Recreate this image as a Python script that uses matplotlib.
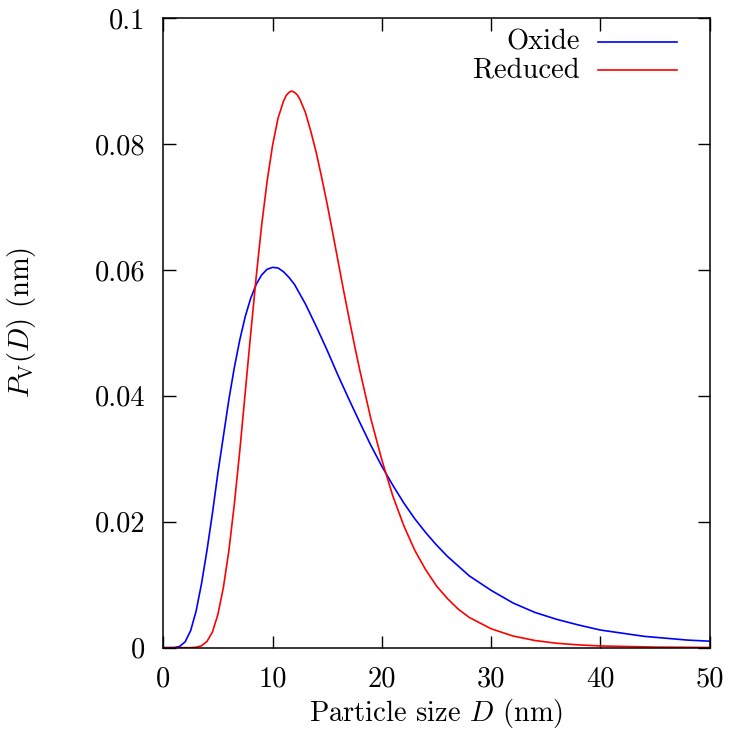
import matplotlib
matplotlib.use("Agg")
import matplotlib.pyplot as plt

plt.rcParams['font.family'] = 'serif'
plt.rcParams['font.serif'] = ['cmr10', 'DejaVu Serif']
plt.rcParams['mathtext.fontset'] = 'cm'
plt.rcParams['axes.formatter.use_mathtext'] = True

# Oxide (blue)
oxide_D = [0, 1.0, 1.5, 2.0, 2.5, 3.0, 3.5, 4.0, 4.5, 5.0, 5.5, 6.0, 6.5, 7.0, 7.5,
           8.0, 8.5, 9.0, 9.5, 10.0, 10.5, 11.0, 11.5, 12.0, 13.0, 14.0, 15.0, 16.0,
           17.0, 18.0, 19.0, 20.0, 21.0, 22.0, 23.0, 24.0, 25.0, 26.0, 28.0, 30.0,
           32.0, 34.0, 36.0, 38.0, 40.0, 42.0, 44.0, 46.0, 48.0, 50.0]
oxide_P = [0, 0.00001, 0.0002, 0.00093, 0.0027, 0.0058, 0.0102, 0.0155, 0.0214, 0.0278,
           0.0336, 0.0394, 0.0445, 0.0489, 0.0526, 0.0555, 0.0577, 0.0592, 0.0601, 0.0604,
           0.0603, 0.0597, 0.0588, 0.0577, 0.0546, 0.0510, 0.0472, 0.0432, 0.0394, 0.0357,
           0.0321, 0.0288, 0.0258, 0.0230, 0.0205, 0.0183, 0.0163, 0.0145, 0.0114, 0.0091,
           0.0071, 0.0056, 0.0045, 0.0036, 0.0028, 0.0023, 0.0018, 0.0015, 0.0012, 0.00103]

# Reduced (red)
reduced_D = [0, 2.5, 3.0, 3.5, 4.0, 4.5, 5.0, 5.5, 6.0, 6.5, 7.0, 7.5, 8.0, 8.5, 9.0,
             9.5, 10.0, 10.5, 11.0, 11.25, 11.5, 11.75, 12.0, 12.25, 12.5, 13.0, 13.5,
             14.0, 14.5, 15.0, 15.5, 16.0, 16.5, 17.0, 17.5, 18.0, 19.0, 20.0, 21.0,
             22.0, 23.0, 24.0, 25.0, 26.0, 27.0, 28.0, 30.0, 32.0, 34.0, 36.0, 38.0,
             40.0, 45.0, 50.0]
reduced_P = [0, 0.0, 0.00007, 0.0003, 0.0010, 0.0025, 0.0053, 0.0096, 0.0154, 0.0228,
             0.0313, 0.0406, 0.0499, 0.0589, 0.0671, 0.0741, 0.0798, 0.0841, 0.0868,
             0.0877, 0.0882, 0.0884, 0.0882, 0.0878, 0.0871, 0.0850, 0.0820, 0.0786,
             0.0746, 0.0704, 0.0659, 0.0613, 0.0567, 0.0523, 0.0480, 0.0439, 0.0363,
             0.0298, 0.0241, 0.0194, 0.0155, 0.0124, 0.0098, 0.0078, 0.0061, 0.0048,
             0.0030, 0.00185, 0.00114, 0.0007, 0.00044, 0.00027, 0.00009, 0.00003]

series_labels = ["Oxide", "Reduced"]
series_colors = ["#0000ff", "#ff0000"]
x_ticks = [0, 10, 20, 30, 40, 50]
y_ticks = [0, 0.02, 0.04, 0.06, 0.08, 0.1]
y_tick_labels = ["0", "0.02", "0.04", "0.06", "0.08", "0.1"]

FS = 20.5

fig = plt.figure(figsize=(7.33, 7.38), dpi=100)
ax = fig.add_axes([0.2228, 0.1224, 0.9682 - 0.2228, 0.9756 - 0.1224])

ax.plot(oxide_D, oxide_P, color=series_colors[0], lw=1.2)
ax.plot(reduced_D, reduced_P, color=series_colors[1], lw=1.2)

ax.set_xlim(0, 50)
ax.set_ylim(0, 0.1)
ax.set_xticks(x_ticks)
ax.set_xticklabels([str(t) for t in x_ticks])
ax.set_yticks(y_ticks)
ax.set_yticklabels(y_tick_labels)
ax.tick_params(direction='in', length=9, width=1.0, top=True, right=True,
               labelsize=FS)
ax.tick_params(axis='x', pad=13)
ax.tick_params(axis='y', pad=13)
for s in ax.spines.values():
    s.set_linewidth(1.1)

ax.set_xlabel(r"Particle size $D$ (nm)", fontsize=FS)
ax.set_ylabel(r"$P_{\mathrm{V}}(D)$ (nm)", fontsize=FS)
ax.xaxis.set_label_coords(0.5, -0.078)
ax.yaxis.set_label_coords(-0.229, 0.517)

# gnuplot-style key: right-aligned text followed by a line sample
key_rows = [0.962, 0.9174]
for lab, col, yk in zip(series_labels, series_colors, key_rows):
    ax.text(0.7626, yk, lab, transform=ax.transAxes, ha='right', va='center', fontsize=FS)
    ax.plot([0.7956, 0.940], [yk, yk], transform=ax.transAxes, color=col, lw=1.2)

fig.savefig("out.png", dpi=100)
